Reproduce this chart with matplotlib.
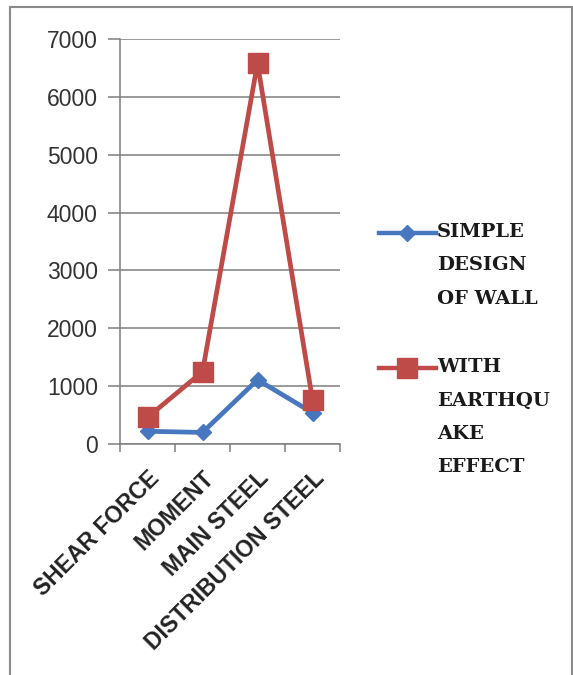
import matplotlib
matplotlib.use("Agg")
import matplotlib.pyplot as plt
from matplotlib.lines import Line2D
from matplotlib.patches import Rectangle

categories = ["SHEAR FORCE", "MOMENT", "MAIN STEEL", "DISTRIBUTION STEEL"]
simple_design = [220, 200, 1110, 540]
with_earthquake = [460, 1250, 6580, 760]
series_labels = ["SIMPLE\nDESIGN\nOF WALL", "WITH\nEARTHQU\nAKE\nEFFECT"]
y_ticks = [0, 1000, 2000, 3000, 4000, 5000, 6000, 7000]

blue = "#4677BF"
red = "#BE4B48"
W, H = 573, 675

fig = plt.figure(figsize=(W / 100, H / 100), dpi=100)
fig.patch.set_facecolor("white")
ax = fig.add_axes([120 / W, 1 - 444 / H, 220 / W, (444 - 39) / H])

x = list(range(len(categories)))
ax.plot(x, simple_design, color=blue, lw=3.4, marker="D", ms=8,
        markerfacecolor=blue, markeredgecolor=blue, zorder=3)
ax.plot(x, with_earthquake, color=red, lw=3.4, marker="s", ms=14,
        markerfacecolor=red, markeredgecolor=red, zorder=4)

ax.set_xlim(-0.5, len(categories) - 0.5)
ax.set_ylim(0, 7000)
ax.set_yticks(y_ticks)
ax.set_yticklabels([str(v) for v in y_ticks], fontsize=16.5,
                   family="Liberation Sans", color="#333333")
ax.yaxis.grid(True, color="#7f7f7f", lw=1.1)
ax.set_axisbelow(True)
ax.tick_params(axis="y", length=9, width=1.1, color="#7f7f7f", pad=7)

ax.set_xticks(x)
ax.set_xticklabels(categories, rotation=45, ha="right", va="top",
                   rotation_mode="anchor", fontsize=16.5, fontweight="bold",
                   family="Liberation Sans", color="#222222")
ax.tick_params(axis="x", which="major", length=0, pad=16)
ax.set_xticks([i - 0.5 for i in range(len(categories) + 1)], minor=True)
ax.tick_params(axis="x", which="minor", length=6, width=1.1, color="#7f7f7f")

for s in ["top", "right"]:
    ax.spines[s].set_visible(False)
for s in ["left", "bottom"]:
    ax.spines[s].set_color("#7f7f7f")
    ax.spines[s].set_linewidth(1.1)

# legend drawn manually
leg_items = [(blue, "D", 8, 233), (red, "s", 14, 368)]
for (c, m, ms, yp), lab in zip(leg_items, series_labels):
    yf = 1 - yp / H
    fig.add_artist(Line2D([379 / W, 436 / W], [yf, yf], color=c, lw=3.2,
                          transform=fig.transFigure))
    fig.add_artist(Line2D([407 / W], [yf], color=c, marker=m, ms=ms,
                          transform=fig.transFigure))
    fig.text(437 / W, yf + 10 / H, lab, ha="left", va="top",
             fontsize=14, fontweight="bold", family="DejaVu Serif",
             color="#1a1a1a", linespacing=2.1)

fig.add_artist(Rectangle((10 / W, -0.01), (W - 11) / W, 1 - 7 / H + 0.01,
                         transform=fig.transFigure, fill=False,
                         edgecolor="#8a8a8a", lw=1.5))

fig.savefig("out.png", dpi=100, facecolor="white")
